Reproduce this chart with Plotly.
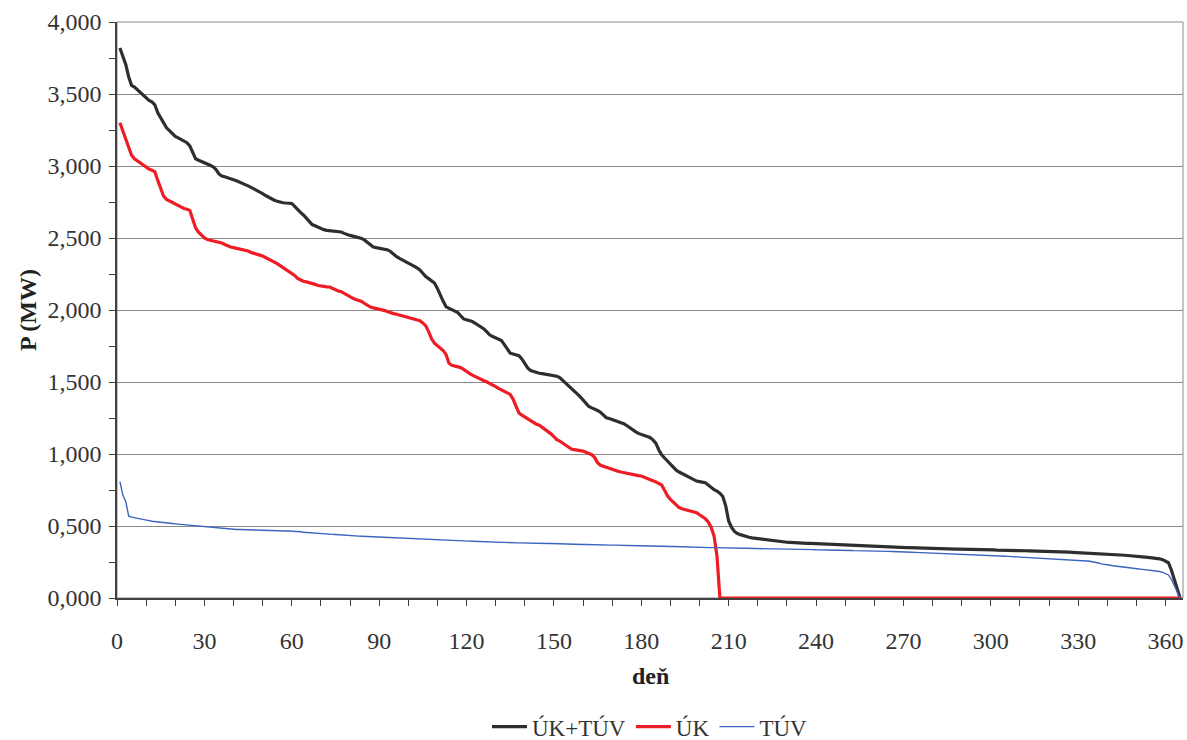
import plotly.graph_objects as go

# Daily heat output duration curves, days sorted by output (values in GW, shown with decimal comma)
days = list(range(1, 366))

uk_tuv = [
    3.820, 3.760, 3.705, 3.620, 3.560, 3.548, 3.530, 3.510, 3.490, 3.470,
    3.455, 3.445, 3.425, 3.370, 3.335, 3.300, 3.265, 3.245, 3.225, 3.205,
    3.195, 3.185, 3.172, 3.162, 3.140, 3.090, 3.050, 3.040, 3.032, 3.025,
    3.015, 3.005, 2.995, 2.975, 2.945, 2.930, 2.925, 2.920, 2.915, 2.905,
    2.898, 2.890, 2.882, 2.872, 2.862, 2.852, 2.842, 2.832, 2.820, 2.808,
    2.795, 2.782, 2.770, 2.762, 2.755, 2.748, 2.745, 2.743, 2.742, 2.740,
    2.720, 2.695, 2.678, 2.660, 2.635, 2.610, 2.593, 2.585, 2.575, 2.565,
    2.558, 2.553, 2.551, 2.549, 2.547, 2.545, 2.542, 2.532, 2.522, 2.518,
    2.513, 2.508, 2.503, 2.497, 2.485, 2.470, 2.452, 2.438, 2.433, 2.428,
    2.424, 2.420, 2.417, 2.405, 2.385, 2.370, 2.358, 2.345, 2.335, 2.325,
    2.315, 2.305, 2.292, 2.278, 2.255, 2.232, 2.218, 2.203, 2.187, 2.150,
    2.100, 2.060, 2.022, 2.012, 2.002, 1.993, 1.982, 1.960, 1.938, 1.932,
    1.928, 1.920, 1.908, 1.895, 1.880, 1.868, 1.848, 1.826, 1.816, 1.806,
    1.796, 1.788, 1.760, 1.728, 1.700, 1.695, 1.690, 1.683, 1.660, 1.630,
    1.598, 1.580, 1.572, 1.565, 1.561, 1.558, 1.555, 1.551, 1.548, 1.545,
    1.540, 1.530, 1.512, 1.495, 1.478, 1.458, 1.438, 1.418, 1.398, 1.375,
    1.345, 1.330, 1.320, 1.312, 1.302, 1.290, 1.270, 1.252, 1.246, 1.240,
    1.234, 1.228, 1.220, 1.211, 1.198, 1.182, 1.166, 1.155, 1.143, 1.136,
    1.130, 1.126, 1.115, 1.098, 1.075, 1.030, 0.995, 0.972, 0.952, 0.930,
    0.905, 0.888, 0.875, 0.864, 0.854, 0.843, 0.830, 0.818, 0.812, 0.808,
    0.804, 0.800, 0.785, 0.765, 0.752, 0.742, 0.728, 0.705, 0.640, 0.535,
    0.490, 0.462, 0.447, 0.440, 0.433, 0.427, 0.422, 0.418, 0.415, 0.412,
    0.409, 0.406, 0.403, 0.400, 0.397, 0.394, 0.392, 0.390, 0.388, 0.387,
    0.386, 0.384, 0.383, 0.382, 0.381, 0.380, 0.379, 0.379, 0.378, 0.378,
    0.377, 0.376, 0.375, 0.375, 0.374, 0.373, 0.372, 0.371, 0.370, 0.370,
    0.369, 0.368, 0.367, 0.366, 0.365, 0.364, 0.363, 0.362, 0.361, 0.360,
    0.359, 0.358, 0.357, 0.356, 0.355, 0.354, 0.353, 0.352, 0.352, 0.351,
    0.350, 0.350, 0.349, 0.348, 0.348, 0.347, 0.346, 0.346, 0.345, 0.344,
    0.344, 0.343, 0.342, 0.341, 0.341, 0.340, 0.340, 0.339, 0.339, 0.339,
    0.338, 0.338, 0.337, 0.337, 0.336, 0.336, 0.336, 0.335, 0.335, 0.334,
    0.334, 0.333, 0.333, 0.332, 0.332, 0.331, 0.331, 0.330, 0.330, 0.329,
    0.328, 0.328, 0.327, 0.326, 0.326, 0.325, 0.324, 0.324, 0.323, 0.322,
    0.322, 0.321, 0.320, 0.320, 0.319, 0.318, 0.318, 0.317, 0.316, 0.316,
    0.315, 0.314, 0.313, 0.313, 0.312, 0.311, 0.310, 0.310, 0.308, 0.307,
    0.305, 0.304, 0.302, 0.300, 0.299, 0.297, 0.295, 0.294, 0.292, 0.290,
    0.288, 0.286, 0.284, 0.282, 0.280, 0.278, 0.276, 0.272, 0.266, 0.258,
    0.245, 0.195, 0.130, 0.065, 0.000,
]

uk = [
    3.300, 3.245, 3.200, 3.130, 3.075, 3.050, 3.035, 3.022, 3.005, 2.988,
    2.978, 2.970, 2.960, 2.900, 2.845, 2.790, 2.768, 2.758, 2.748, 2.735,
    2.722, 2.712, 2.705, 2.700, 2.692, 2.630, 2.570, 2.540, 2.520, 2.500,
    2.490, 2.485, 2.482, 2.478, 2.474, 2.465, 2.455, 2.445, 2.437, 2.433,
    2.428, 2.424, 2.420, 2.417, 2.410, 2.400, 2.392, 2.387, 2.381, 2.375,
    2.365, 2.355, 2.345, 2.333, 2.322, 2.308, 2.295, 2.285, 2.272, 2.258,
    2.240, 2.220, 2.208, 2.200, 2.195, 2.190, 2.186, 2.178, 2.170, 2.166,
    2.163, 2.161, 2.160, 2.150, 2.140, 2.132, 2.127, 2.115, 2.102, 2.090,
    2.081, 2.073, 2.066, 2.060, 2.045, 2.030, 2.020, 2.015, 2.010, 2.007,
    2.004, 1.996, 1.988, 1.980, 1.975, 1.970, 1.965, 1.960, 1.955, 1.950,
    1.945, 1.938, 1.932, 1.926, 1.910, 1.890, 1.850, 1.800, 1.770, 1.752,
    1.735, 1.718, 1.690, 1.630, 1.616, 1.612, 1.608, 1.600, 1.588, 1.572,
    1.560, 1.548, 1.537, 1.526, 1.518, 1.509, 1.500, 1.491, 1.480, 1.468,
    1.456, 1.444, 1.436, 1.426, 1.414, 1.380, 1.330, 1.285, 1.270, 1.258,
    1.244, 1.230, 1.216, 1.207, 1.200, 1.185, 1.170, 1.160, 1.140, 1.120,
    1.100, 1.090, 1.075, 1.060, 1.045, 1.035, 1.030, 1.027, 1.024, 1.020,
    1.012, 1.003, 0.995, 0.975, 0.940, 0.922, 0.915, 0.905, 0.897, 0.893,
    0.887, 0.880, 0.875, 0.870, 0.866, 0.862, 0.858, 0.854, 0.850, 0.847,
    0.840, 0.832, 0.824, 0.815, 0.806, 0.796, 0.785, 0.748, 0.710, 0.685,
    0.665, 0.645, 0.628, 0.620, 0.614, 0.608, 0.603, 0.600, 0.592, 0.578,
    0.565, 0.550, 0.528, 0.490, 0.430, 0.290,
] + [0.000] * 159

tuv = [
    0.808, 0.715, 0.670, 0.570, 0.562, 0.557, 0.553, 0.549, 0.546, 0.542,
    0.537, 0.533, 0.530, 0.528, 0.526, 0.524, 0.522, 0.520, 0.517, 0.515,
    0.513, 0.511, 0.509, 0.507, 0.504, 0.502, 0.500, 0.498, 0.496, 0.494,
    0.492, 0.490, 0.488, 0.486, 0.484, 0.482, 0.481, 0.479, 0.478, 0.477,
    0.476, 0.476, 0.475, 0.474, 0.473, 0.472, 0.471, 0.470, 0.469, 0.468,
    0.467, 0.467, 0.467, 0.466, 0.466, 0.466, 0.466, 0.465, 0.465, 0.465,
    0.465, 0.463, 0.460, 0.457, 0.455, 0.453, 0.452, 0.451, 0.449, 0.448,
    0.447, 0.445, 0.444, 0.442, 0.441, 0.439, 0.438, 0.436, 0.435, 0.433,
    0.432, 0.431, 0.430, 0.429, 0.428, 0.427, 0.426, 0.425, 0.424, 0.423,
    0.422, 0.421, 0.419, 0.418, 0.417, 0.416, 0.416, 0.415, 0.415, 0.414,
    0.413, 0.413, 0.412, 0.411, 0.411, 0.410, 0.409, 0.408, 0.407, 0.406,
    0.405, 0.404, 0.403, 0.402, 0.401, 0.400, 0.399, 0.398, 0.397, 0.396,
    0.395, 0.394, 0.393, 0.392, 0.391, 0.390, 0.389, 0.389, 0.388, 0.387,
    0.387, 0.386, 0.386, 0.385, 0.384, 0.384, 0.383, 0.383, 0.382, 0.382,
    0.381, 0.381, 0.381, 0.380, 0.380, 0.379, 0.379, 0.378, 0.378, 0.377,
    0.377, 0.376, 0.376, 0.375, 0.375, 0.374, 0.374, 0.373, 0.373, 0.372,
    0.372, 0.371, 0.371, 0.370, 0.370, 0.369, 0.369, 0.368, 0.368, 0.367,
    0.367, 0.366, 0.366, 0.365, 0.365, 0.364, 0.364, 0.364, 0.363, 0.363,
    0.362, 0.362, 0.362, 0.361, 0.361, 0.360, 0.360, 0.359, 0.359, 0.358,
    0.358, 0.357, 0.357, 0.356, 0.355, 0.355, 0.354, 0.353, 0.353, 0.352,
    0.352, 0.351, 0.351, 0.350, 0.350, 0.349, 0.349, 0.348, 0.348, 0.347,
    0.347, 0.346, 0.346, 0.345, 0.345, 0.345, 0.344, 0.344, 0.344, 0.343,
    0.343, 0.342, 0.342, 0.342, 0.341, 0.341, 0.341, 0.340, 0.340, 0.340,
    0.339, 0.339, 0.339, 0.338, 0.338, 0.337, 0.337, 0.336, 0.336, 0.335,
    0.335, 0.334, 0.334, 0.334, 0.333, 0.333, 0.332, 0.332, 0.331, 0.331,
    0.330, 0.330, 0.329, 0.329, 0.328, 0.328, 0.327, 0.327, 0.326, 0.326,
    0.325, 0.325, 0.324, 0.324, 0.324, 0.323, 0.323, 0.322, 0.322, 0.321,
    0.320, 0.319, 0.318, 0.317, 0.316, 0.316, 0.315, 0.314, 0.313, 0.312,
    0.311, 0.310, 0.309, 0.308, 0.307, 0.307, 0.306, 0.305, 0.304, 0.303,
    0.302, 0.301, 0.300, 0.299, 0.298, 0.298, 0.297, 0.296, 0.295, 0.294,
    0.293, 0.293, 0.292, 0.291, 0.290, 0.289, 0.288, 0.287, 0.286, 0.285,
    0.284, 0.283, 0.282, 0.281, 0.280, 0.279, 0.278, 0.277, 0.276, 0.275,
    0.274, 0.273, 0.272, 0.271, 0.270, 0.269, 0.268, 0.266, 0.265, 0.263,
    0.261, 0.259, 0.257, 0.255, 0.252, 0.248, 0.243, 0.237, 0.232, 0.229,
    0.227, 0.224, 0.221, 0.218, 0.215, 0.212, 0.209, 0.206, 0.205, 0.203,
    0.201, 0.199, 0.197, 0.195, 0.193, 0.191, 0.188, 0.184, 0.178, 0.170,
    0.160, 0.130, 0.090, 0.045, 0.000,
]

x_ticks = list(range(0, 361, 30))
y_ticks = [0.0, 0.5, 1.0, 1.5, 2.0, 2.5, 3.0, 3.5, 4.0]

series = [
    ("ÚK+TÚV", uk_tuv, "#2e2e2e", 3.2),
    ("ÚK", uk, "#ee1c25", 3.2),
    ("TÚV", tuv, "#3a64c0", 1.4),
]

fig = go.Figure()
for name, values, color, width in series:
    fig.add_trace(go.Scatter(
        x=days, y=values, name=name, mode="lines",
        line=dict(color=color, width=width),
    ))

serif = "Liberation Serif, Times New Roman, serif"
axis_col = "#404040"
label_col = "#333333"

fig.update_layout(
    width=1187, height=740,
    margin=dict(l=117, r=4, t=22, b=142),
    paper_bgcolor="white", plot_bgcolor="white",
    separators=",.",
    font=dict(family=serif, size=24, color=label_col),
    showlegend=True,
    legend=dict(
        orientation="h", x=0.5, xanchor="center",
        yref="container", y=0.018, yanchor="middle",
        font=dict(family=serif, size=23, color=label_col),
        itemwidth=35, tracegroupgap=0,
    ),
    shapes=[dict(
        type="rect", xref="paper", yref="paper", x0=0, y0=0, x1=1, y1=1,
        line=dict(color="#8a8a8a", width=1), layer="below",
    )],
    annotations=[dict(
        text="<b>deň</b>", xref="paper", yref="paper", x=0.5, y=-0.1354,
        xanchor="center", yanchor="middle", showarrow=False,
        font=dict(family=serif, size=24, color="#222222"),
    )],
)

fig.update_xaxes(
    range=[0, 366], tickvals=x_ticks, ticks="outside", ticklen=6,
    tickcolor=axis_col, showline=True, linecolor=axis_col, linewidth=1.5,
    showgrid=False, zeroline=False,
    minor=dict(dtick=10, tick0=0, ticks="outside", ticklen=6, tickcolor=axis_col),
    tickfont=dict(family=serif, size=24, color=label_col),
    ticklabelstandoff=14,
)
fig.update_yaxes(
    range=[0, 4], tickvals=y_ticks, tickformat=".3f", ticks="outside", ticklen=6,
    tickcolor=axis_col, showline=True, linecolor=axis_col, linewidth=1.5,
    showgrid=True, gridcolor="#8a8a8a", gridwidth=1, zeroline=False,
    minor=dict(dtick=0.25, tick0=0, ticks="outside", ticklen=6, tickcolor=axis_col,
               showgrid=False),
    tickfont=dict(family=serif, size=24, color=label_col),
    ticklabelstandoff=3,
    title=dict(text="<b>P (MW)</b>", font=dict(family=serif, size=24, color="#222222"),
               standoff=4),
)

fig.write_html("out.html")
